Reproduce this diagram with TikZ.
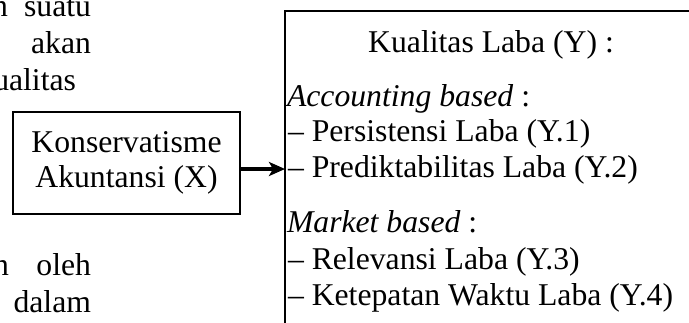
\documentclass[tikz,border=0pt]{standalone}
\usepackage{fontspec}
\setmainfont{Liberation Serif}
\usetikzlibrary{arrows.meta}
\begin{document}
\begin{tikzpicture}[x=1pt,y=-1pt,
  every node/.style={inner sep=0pt, outer sep=0pt},
  txt/.style={font=\fontsize{31.7}{36.5}\selectfont},
  boxline/.style={draw=black, line width=1.8pt},
  link/.style={line width=4.5pt, -{Stealth[length=16pt,width=14pt,inset=4pt]}}]
\useasboundingbox (0,0) rectangle (689,322);
% surrounding page text fragments
\node[txt, anchor=base east] (f1) at (8,16) {n};
\node[txt, anchor=base east] (f2) at (91,16) {suatu};
\node[txt, anchor=base east] (f3) at (91,53) {akan};
\node[txt, anchor=base east] (f4) at (76,90) {ualitas};
\node[txt, anchor=base east] (f5) at (9,275) {n};
\node[txt, anchor=base east] (f6) at (91,275) {oleh};
\node[txt, anchor=base east] (f7) at (91,312) {dalam};
% left box
\node[boxline, minimum width=227pt, minimum height=102pt] (X) at (126.5,163) {};
\node[txt, anchor=base] (x1) at (126.5,152) {Konservatisme};
\node[txt, anchor=base] (x2) at (126.5,187) {Akuntansi (X)};
% right box
\node[boxline, anchor=north west, minimum width=440pt, minimum height=330pt] (Y) at (285,11) {};
\node[txt, anchor=base] (y0) at (491,52) {Kualitas Laba (Y) :};
\node[txt, anchor=base west] (y1) at (287,106) {\textit{Accounting based} :};
\node[txt, anchor=base west] (y2) at (288,141) {– Persistensi Laba (Y.1)};
\node[txt, anchor=base west] (y3) at (288,177) {– Prediktabilitas Laba (Y.2)};
\node[txt, anchor=base west] (y4) at (287,232) {\textit{Market based} :};
\node[txt, anchor=base west] (y5) at (288,269) {– Relevansi Laba (Y.3)};
\node[txt, anchor=base west] (y6) at (288,305) {– Ketepatan Waktu Laba (Y.4)};
% connector
\coordinate (a) at (0,169);
\draw[link] (X.east |- a) -- (Y.west |- a);
\end{tikzpicture}
\end{document}
